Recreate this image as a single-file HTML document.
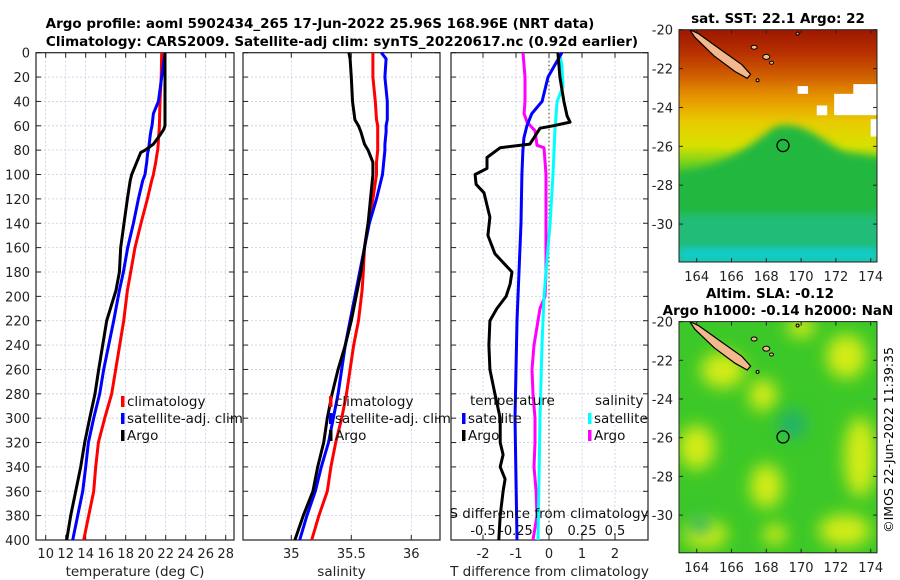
<!DOCTYPE html>
<html><head><meta charset="utf-8">
<style>
html,body{margin:0;padding:0;background:#fff;}
svg{display:block;font-family:"DejaVu Sans","Liberation Sans",sans-serif;}
</style></head>
<body>
<svg id="fig" width="900" height="580" viewBox="0 0 900 580" xmlns="http://www.w3.org/2000/svg">
<defs>
<linearGradient id="sstGrad" x1="0" y1="0" x2="0" y2="1">
<stop offset="0" stop-color="#9c1800"/><stop offset="0.1" stop-color="#b83000"/>
<stop offset="0.2" stop-color="#d06000"/><stop offset="0.3" stop-color="#e89a00"/>
<stop offset="0.4" stop-color="#e8cc00"/><stop offset="0.5" stop-color="#d8e000"/>
<stop offset="0.58" stop-color="#70d020"/><stop offset="0.68" stop-color="#18b840"/>
<stop offset="0.82" stop-color="#10b858"/><stop offset="0.92" stop-color="#20c8a8"/>
<stop offset="1" stop-color="#10d8d8"/></linearGradient>
<filter id="blur8" x="-100%" y="-100%" width="300%" height="300%"><feGaussianBlur stdDeviation="8"/></filter>
<filter id="blur4" x="-20%" y="-20%" width="140%" height="140%"><feGaussianBlur stdDeviation="4"/></filter>
<clipPath id="clipTop"><rect x="679" y="29.7" width="198" height="232.3"/></clipPath>
<clipPath id="clipBot"><rect x="679" y="321.6" width="198" height="231.2"/></clipPath>
</defs>
<text x="320" y="28" text-anchor="middle" font-weight="bold" font-size="13.5">Argo profile: aoml 5902434_265 17-Jun-2022 25.96S 168.96E (NRT data)</text>
<text x="342" y="46" text-anchor="middle" font-weight="bold" font-size="13.5">Climatology: CARS2009. Satellite-adj clim: synTS_20220617.nc (0.92d earlier)</text>
<g id="panels"></g>
<g id="maps"></g>
<text transform="translate(893,440) rotate(-90)" text-anchor="middle" font-size="12.5">©IMOS 22-Jun-2022 11:39:35</text>
</svg>
<script>
// ---- depth levels (m) and series ----
const tempDepths = [0,20,40,50,60,63,68,75,80,82,90,100,105,120,140,160,180,195,220,240,260,280,300,320,340,360,380,400];
const tempClim   = [21.6,21.55,21.43,21.4,21.37,21.35,21.3,21.25,21.2,21.15,21.0,20.77,20.6,20.17,19.53,18.93,18.5,18.17,17.8,17.4,17.0,16.6,15.9,15.27,15.0,14.8,14.3,13.8];
const tempSat    = [21.93,21.6,21.27,20.77,20.63,20.55,20.45,20.35,20.27,20.2,20.1,19.93,19.7,19.27,18.77,18.2,17.77,17.37,16.8,16.3,15.8,15.4,14.8,14.27,14.0,13.7,13.2,12.7];
const tempArgo   = [21.93,21.93,21.93,21.93,21.93,21.8,21.4,20.77,19.93,19.5,19.1,18.6,18.45,18.17,17.83,17.5,17.37,17.03,16.1,15.7,15.3,14.93,14.4,13.9,13.5,13.0,12.5,12.1];
const salDepths  = [0,5,20,40,55,60,65,75,80,90,100,120,140,160,180,195,220,240,260,280,300,320,340,360,380,400];
const salClim    = [35.68,35.68,35.68,35.70,35.71,35.72,35.72,35.72,35.72,35.71,35.71,35.68,35.64,35.61,35.60,35.59,35.56,35.52,35.49,35.46,35.42,35.37,35.33,35.30,35.23,35.17];
const salSat     = [35.75,35.79,35.78,35.80,35.80,35.79,35.79,35.78,35.78,35.77,35.76,35.71,35.65,35.61,35.57,35.54,35.49,35.45,35.42,35.39,35.35,35.31,35.25,35.20,35.13,35.07];
const salArgo    = [35.48,35.49,35.50,35.51,35.53,35.56,35.58,35.61,35.64,35.68,35.68,35.66,35.64,35.61,35.58,35.55,35.50,35.45,35.39,35.34,35.30,35.27,35.22,35.18,35.10,35.03];
const dTArgoDepths = [0,20,40,52,57,60,62,75,78,86,95,100,108,115,135,150,165,180,190,200,210,220,240,260,280,300,320,330,340,350,360,380,400];
const dTArgo     = [0.27,0.33,0.45,0.55,0.64,0.12,-0.27,-0.58,-1.48,-1.88,-1.88,-2.24,-2.21,-1.97,-1.79,-1.85,-1.64,-1.12,-1.18,-1.30,-1.58,-1.79,-1.82,-1.79,-1.64,-1.48,-1.48,-1.39,-1.48,-1.33,-1.39,-1.48,-1.52];
const dTSatDepths = [0,10,20,40,50,60,70,80,100,140,180,220,300,400];
const dTSat      = [0.39,0.18,-0.03,-0.21,-0.52,-0.67,-0.76,-0.79,-0.82,-0.85,-0.91,-0.97,-1.03,-0.97];
const dSArgoDepths = [0,20,40,50,57,64,76,78,100,180,200,210,220,240,260,280,300,320,340,360,380,400];
const dSArgo     = [-0.197,-0.182,-0.182,-0.189,-0.167,-0.106,-0.091,-0.038,-0.023,-0.023,-0.030,-0.068,-0.083,-0.114,-0.129,-0.121,-0.106,-0.106,-0.114,-0.098,-0.091,-0.121];
const dSSatDepths = [0,10,28,40,64,100,140,180,200,240,300,400];
const dSSat      = [0.076,0.098,0.106,0.061,0.045,0.030,0.008,-0.023,-0.038,-0.053,-0.068,-0.083];
const depthTicks = [0,20,40,60,80,100,120,140,160,180,200,220,240,260,280,300,320,340,360,380,400];
const tempTicks  = [10,12,14,16,18,20,22,24,26,28];
const salTicks   = [35,35.5,36];
const salTickLabels = ["35","35.5","36"];
const dTTicks    = [-2,-1,0,1,2];
const dSTicks    = [-0.5,-0.25,0,0.25,0.5];
const dSTickLabels = ["-0.5","-0.25","0","0.25","0.5"];
const lonTicks   = [164,166,168,170,172,174];
const latTicks   = [-20,-22,-24,-26,-28,-30];

const NS="http://www.w3.org/2000/svg";
function mk(tag, attrs, parent, text){const e=document.createElementNS(NS,tag);for(const k in attrs)e.setAttribute(k,attrs[k]);if(text!==undefined)e.textContent=text;parent.appendChild(e);return e;}
const Y0=52.7, Y1=540;
const yD = d => Y0 + d*(Y1-Y0)/400;
const panels=document.getElementById('panels');

function axesBox(x0,x1,xs,ticks,labels,name,xlabel,showDepthLabels){
  const g=mk('g',{},panels);
  
  
  depthTicks.forEach(d=>{ if(d>0&&d<400){ const l=mk('line',{x1:x0,x2:x1,y1:yD(d),y2:yD(d),stroke:'#c8cce8','stroke-width':0.8,'stroke-dasharray':'2,2'},g);  }});
  ticks.forEach(t=>{ const x=xs(t); const l=mk('line',{x1:x,x2:x,y1:Y0,y2:Y1,stroke:'#c8cce8','stroke-width':0.8,'stroke-dasharray':'2,2'},g);  });
  depthTicks.forEach(d=>{ const y=yD(d);
    mk('line',{x1:x0,x2:x0+5,y1:y,y2:y,stroke:'#222','stroke-width':1},g);
    mk('line',{x1:x1,x2:x1-5,y1:y,y2:y,stroke:'#222','stroke-width':1},g);
    if(showDepthLabels){const t=mk('text',{x:x0-6,y:y+5,'text-anchor':'end','font-size':13,fill:'#222'},g,String(d));  }
  });
  ticks.forEach((t,i)=>{const x=xs(t);
    mk('line',{x1:x,x2:x,y1:Y1,y2:Y1-5,stroke:'#222','stroke-width':1},g);
    mk('line',{x1:x,x2:x,y1:Y0,y2:Y0+5,stroke:'#222','stroke-width':1},g);
    if(labels){const tx=mk('text',{x:x,y:558,'text-anchor':'middle','font-size':13,fill:'#222'},g,labels[i]);  }
  });
  const b=mk('rect',{x:x0,y:Y0,width:x1-x0,height:Y1-Y0,fill:'none',stroke:'#222','stroke-width':1.2},g);
   
  const xl=mk('text',{x:(x0+x1)/2,y:576,'text-anchor':'middle','font-size':13.5,fill:'#222'},g,xlabel);
   
  return g;
}
function line(g,depths,vals,xs,color,name,w){
  const pts=depths.map((d,i)=>xs(vals[i]).toFixed(1)+','+yD(d).toFixed(1)).join(' ');
  const p=mk('polyline',{points:pts,fill:'none',stroke:color,'stroke-width':w||3,'stroke-linejoin':'round'},g);
  
  
}
function legend(g,x,y,color,label,name){
  const r=mk('rect',{x:x,y:y-9,width:3.5,height:11,fill:color},g);
   
  const t=mk('text',{x:x+6,y:y+1,'font-size':13.5,fill:'#111'},g,label);
   
}

const xT = t => 45.7 + (t-10)*10;
const g1=axesBox(36,234,xT,tempTicks,tempTicks.map(String),'temperature-panel','temperature (deg C)',true);
line(g1,tempDepths,tempClim,xT,'#ff0000','temp-climatology-line');
line(g1,tempDepths,tempSat,xT,'#0000ff','temp-satellite-line');
line(g1,tempDepths,tempArgo,xT,'#000000','temp-argo-line');
legend(g1,121,405,'#ff0000','climatology','legend-climatology');
legend(g1,121,422,'#0000ff','satellite-adj. clim','legend-satellite');
legend(g1,121,439,'#000000','Argo','legend-argo');

const xS = s => 291.3 + (s-35)*120;
const g2=axesBox(243,440,xS,salTicks,salTickLabels,'salinity-panel','salinity',false);
line(g2,salDepths,salClim,xS,'#ff0000','sal-climatology-line');
line(g2,salDepths,salSat,xS,'#0000ff','sal-satellite-line');
line(g2,salDepths,salArgo,xS,'#000000','sal-argo-line');
legend(g2,329,405,'#ff0000','climatology','legend-climatology-2');
legend(g2,329,422,'#0000ff','satellite-adj. clim','legend-satellite-2');
legend(g2,329,439,'#000000','Argo','legend-argo-2');

const xDT = v => 549 + v*33;
const xDS = v => 549 + v*132;
const g3=axesBox(451,648,xDT,dTTicks,dTTicks.map(String),'difference-panel','T difference from climatology',false);
const z=mk('line',{x1:549,x2:549,y1:Y0,y2:Y1,stroke:'#6b5a2a','stroke-width':1.2,'stroke-dasharray':'1.5,2.5'},g3);
 
line(g3,dSArgoDepths,dSArgo,xDS,'#ff00ff','sdiff-argo-line');
line(g3,dSSatDepths,dSSat,xDS,'#00ffff','sdiff-satellite-line');
line(g3,dTSatDepths,dTSat,xDT,'#0000ff','tdiff-satellite-line');
line(g3,dTArgoDepths,dTArgo,xDT,'#000000','tdiff-argo-line');
const lt=mk('text',{x:470,y:405,'font-size':13.5,fill:'#111'},g3,'temperature');  
legend(g3,462,422,'#0000ff','satellite','legend-tdiff-satellite');
legend(g3,462,439,'#000000','Argo','legend-tdiff-argo');
const ls=mk('text',{x:595,y:405,'font-size':13.5,fill:'#111'},g3,'salinity');  
legend(g3,588,422,'#00ffff','satellite','legend-sdiff-satellite');
legend(g3,588,439,'#ff00ff','Argo','legend-sdiff-argo');
const st=mk('text',{x:549,y:518,'text-anchor':'middle','font-size':13.5,fill:'#111'},g3,'S difference from climatology');
 
dSTicks.forEach((v,i)=>{const t=mk('text',{x:xDS(v),y:535,'text-anchor':'middle','font-size':13,fill:'#111'},g3,dSTickLabels[i]);  });

// ---- Maps ----
const maps=document.getElementById('maps');
const MX0=679, MX1=877;
const lonX = l => 696.7 + (l-164)*17.4;
function mapFrame(top,bottom,name,clip,isSST){
  const latY = la => top + (-20-la)*((bottom-top)/11.95);
  const g=mk('g',{},maps);
  
  
  const c=mk('g',{'clip-path':'url(#'+clip+')'},g);
  if(isSST){
    mk('rect',{x:MX0,y:top,width:198,height:bottom-top,fill:'url(#sstGrad)'},c);
    mk('path',{d:`M${MX0-30},${latY(-27.3)} L${MX0},${latY(-27.3)} C${lonX(166)},${latY(-27)} ${lonX(167.5)},${latY(-25.6)} ${lonX(168.5)},${latY(-25)} C${lonX(170)},${latY(-24.6)} ${lonX(171)},${latY(-25.6)} ${lonX(172.5)},${latY(-26.3)} L${MX1+30},${latY(-26.8)} L${MX1+30},${bottom+30} L${MX0-30},${bottom+30} Z`,fill:'#22b840',filter:'url(#blur4)'},c);
    mk('rect',{x:MX0-30,y:latY(-29.5),width:260,height:bottom-latY(-29.5)+30,fill:'#20c0a0',opacity:0.6,filter:'url(#blur4)'},c);
    mk('rect',{x:MX0,y:latY(-31.2),width:198,height:bottom-latY(-31.2),fill:'#10d0e0',opacity:0.8,filter:'url(#blur4)'},c);
    [[171.9,-23.3,2.6,1.1],[173.0,-22.8,1.5,0.8],[170.9,-23.9,0.6,0.5],[169.8,-22.9,0.6,0.4],[174.0,-24.6,0.5,0.9]].forEach(w=>{
      const r=mk('rect',{x:lonX(w[0]),y:latY(w[1]),width:w[2]*17.4,height:w[3]*19.4,fill:'#fff'},c);
       
    });
  } else {
    mk('rect',{x:MX0,y:top,width:198,height:bottom-top,fill:'#3cc828'},c);
    const blobs=[[165.5,-22.5,22,18],[167.8,-23.8,14,16],[172.6,-21.8,20,22],[164.0,-26.5,18,22],[168.0,-28.5,16,22],[173.4,-27,16,40],[164.5,-31,22,14],[172.5,-30.8,26,16],[170,-20.3,14,10],[168.5,-31,12,10]];
    blobs.forEach(b=>{const e=mk('ellipse',{cx:lonX(b[0]),cy:latY(b[1]),rx:b[2],ry:b[3],fill:'#d4ec18',filter:'url(#blur8)'},c);  });
    [[169.5,-25.3,14,14],[164.2,-30.5,10,10]].forEach(b=>{mk('ellipse',{cx:lonX(b[0]),cy:latY(b[1]),rx:b[2],ry:b[3],fill:'#20b070',filter:'url(#blur8)'},c);});
  }
  const isl=mk('path',{d:`M${lonX(163.6)},${latY(-20.0)} L${lonX(164.1)},${latY(-20.2)} L${lonX(165.5)},${latY(-21.1)} L${lonX(166.6)},${latY(-21.8)} L${lonX(167.1)},${latY(-22.3)} L${lonX(166.9)},${latY(-22.5)} L${lonX(166.2)},${latY(-22.15)} L${lonX(165.0)},${latY(-21.35)} L${lonX(163.9)},${latY(-20.4)} Z`,fill:'#f4b88e',stroke:'#000','stroke-width':1.2},c);
   
  [[167.3,-20.9,3,2],[168.0,-21.4,3.5,2.5],[168.3,-21.7,2,1.5],[167.5,-22.6,1.5,1.5],[169.8,-20.2,1.5,1.5]].forEach(s=>mk('ellipse',{cx:lonX(s[0]),cy:latY(s[1]),rx:s[2],ry:s[3],fill:'#f4b88e',stroke:'#000','stroke-width':1},c));
  const circ=mk('circle',{cx:lonX(168.96),cy:latY(-25.96),r:6,fill:'none',stroke:'#000','stroke-width':1.3},g);
   
  lonTicks.forEach(l=>{const x=lonX(l);
    mk('line',{x1:x,x2:x,y1:bottom,y2:bottom-4,stroke:'#222'},g);
    mk('line',{x1:x,x2:x,y1:top,y2:top+4,stroke:'#222'},g);
    const t=mk('text',{x:x,y:bottom+19,'text-anchor':'middle','font-size':13,fill:'#222'},g,String(l));  });
  latTicks.forEach(la=>{const y=latY(la);
    mk('line',{x1:MX0,x2:MX0+4,y1:y,y2:y,stroke:'#222'},g);
    mk('line',{x1:MX1,x2:MX1-4,y1:y,y2:y,stroke:'#222'},g);
    const t=mk('text',{x:MX0-6,y:y+5,'text-anchor':'end','font-size':13,fill:'#222'},g,String(la));  });
  const f=mk('rect',{x:MX0,y:top,width:198,height:bottom-top,fill:'none',stroke:'#222','stroke-width':1},g);
   
}
mapFrame(29.7,262,'sst-map','clipTop',true);
mapFrame(321.6,552.8,'sla-map','clipBot',false);
const t1=mk('text',{x:778,y:23,'text-anchor':'middle','font-weight':'bold','font-size':13.5},maps,'sat. SST: 22.1 Argo: 22');
 
const t2=mk('text',{x:770,y:298,'text-anchor':'middle','font-weight':'bold','font-size':13.5},maps,'Altim. SLA: -0.12');
 
const t3=mk('text',{x:778,y:315,'text-anchor':'middle','font-weight':'bold','font-size':13.5},maps,'Argo h1000: -0.14 h2000: NaN');
 
</script>
</body></html>
